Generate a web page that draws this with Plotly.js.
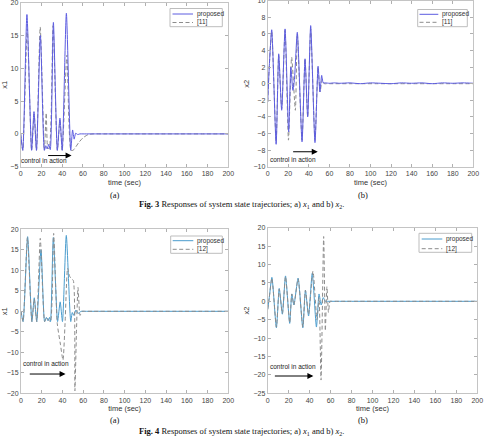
<!DOCTYPE html>
<html>
<head>
<meta charset="utf-8">
<script src="https://cdn.plot.ly/plotly-3.0.1.min.js"></script>
<style>
  html, body { margin: 0; padding: 0; background: #fff; }
  #fig { width: 487px; height: 441px; }
</style>
</head>
<body>
<div id="fig"></div>
<script>
// ---- Fig. 3 (a): x1, proposed vs [11]
const t3aProp = [0, 2, 6, 10.5, 12.8, 15.2, 19, 22.8, 24.2, 25.5, 27, 28.5, 31.5, 35.3, 37.8, 40, 44, 48.2, 50, 51.5, 53, 55, 57, 60, 80, 200];
const x3aProp = [0, -2.5, 18.2, -2.5, 3.4, -2.5, 15, -2.5, -1.8, -2.3, -1.6, -2.4, 17, -2.5, 2.4, -2.5, 18.4, -2.5, 0.6, -0.8, 0.1, -0.1, 0, 0, 0, 0];
const t3aRef = [0, 2, 6.3, 10.5, 13, 15.2, 18.8, 22.8, 24.6, 26.2, 27.5, 31.2, 35.3, 37.8, 40, 44.5, 48.5, 50.5, 53, 56, 60, 65, 70, 80, 200];
const x3aRef = [0, -2.5, 16, -2.5, 3, -2.5, 16.3, -2.5, 3.2, -2.2, -2.2, 16.5, -2.5, 2, -2.5, 12, -2.5, -2.5, -2, -1.3, -0.6, -0.1, 0, 0, 0];

// ---- Fig. 3 (b): x2, proposed vs [11]
const t3bProp = [0, 1.5, 3.9, 8.2, 10.7, 13.6, 16.9, 20.4, 22.5, 24.5, 26, 28.8, 33.4, 36.3, 38.9, 41.8, 46, 49, 50.8, 52.5, 54, 56, 60, 65, 70, 80, 90, 100, 110, 120, 130, 140, 150, 160, 170, 180, 190, 200];
const x3bProp = [-2.2, 2, 6.5, -7.3, 3.6, -3.2, 6.6, -5.8, 2, -0.8, 0.5, 6.2, -7, 3, -4, 7, -7.1, 2.1, -1, 1, 0.1, 0.1, 0.05, 0.1, 0.05, 0.1, 0, 0.1, 0.05, 0, 0.1, 0.05, 0.1, 0, 0.1, 0.05, 0.1, 0.05];
const t3bRef = [0, 1.5, 3.9, 8.2, 10.7, 13.6, 16.9, 20.2, 23.3, 26.9, 28.8, 33.4, 36.3, 38.9, 41.8, 46, 49, 51, 53, 55, 57, 60, 80, 200];
const x3bRef = [-2.2, 2, 6.3, -7, 3.4, -3, 6.4, -6.8, 3.2, -3.2, 6, -6.8, 3, -4, 6.6, -6.8, 2, -1, 0.5, 0, 0, 0, 0, 0];

// ---- Fig. 4 (a): x1, proposed vs [12]
const t4aProp = [0, 2, 6.4, 10.5, 12.8, 15.2, 19.3, 22.8, 24.5, 26, 27.5, 28.5, 31.2, 35.3, 37.8, 40, 43.7, 48, 49.5, 51, 53, 55, 58, 60, 80, 200];
const x4aProp = [0, -2.5, 18.2, -2.5, 3.3, -2.5, 15, -2.5, -1.5, -2.3, -1.5, -2.5, 18, -2.5, 2.3, -2.5, 18.5, -2.5, -0.3, -1, 0.3, -0.5, 0, 0, 0, 0];
const t4aRef = [0, 2, 6.2, 10.5, 12.8, 15.2, 18.6, 22.8, 24.5, 27, 28.5, 31.5, 35, 38, 40.5, 42.5, 45, 47, 48.5, 50.5, 52, 53.5, 55, 57, 59, 61, 70, 200];
const x4aRef = [0, -2.5, 18, -2.5, 3, -2.5, 17.8, -2.5, -1.5, -2.3, -2.5, 19, -3, -8, -11.9, -3, 10.5, 8.5, 8, 7.5, -19.4, -5, 5.8, -1, 0, 0, 0, 0];

// ---- Fig. 4 (b): x2, proposed vs [12]
const t4bProp = [0, 1.5, 4, 8.3, 11, 14, 17, 21, 23, 25, 29, 33.5, 36, 39, 42.5, 46.5, 49, 51, 53, 55, 57, 60, 80, 200];
const x4bProp = [-2.2, 1, 6.5, -7.2, 3.5, -3.5, 6.9, -6, 2, -1, 6.3, -7.2, 3, -4, 7.6, -7, 2, -1, 1, 0, 0, 0, 0, 0];
const t4bRef = [0, 1.5, 4, 8.3, 11, 14, 17, 21, 23, 25, 29, 33.5, 36, 39, 43.2, 47, 49, 50.9, 53.4, 55, 56.5, 58, 59.5, 61, 63, 70, 200];
const x4bRef = [-2.2, 1, 6.3, -7, 3.3, -3.3, 6.7, -5.8, 2, -1, 6.1, -7, 3, -3.5, 8.2, -5, 1, -21.4, 17.6, -8, 4, -3, 0, 0, 0, 0, 0];

const seriesNames = ["proposed", "[11]", "[12]"];
const xTitle = "time (sec)";
const yTitles = ["x1", "x2"];
const xTicks = [0, 20, 40, 60, 80, 100, 120, 140, 160, 180, 200];
const yTicks3a = [-5, 0, 5, 10, 15, 20];
const yTicks3b = [-10, -8, -6, -4, -2, 0, 2, 4, 6, 8, 10];
const yTicks4a = [-20, -15, -10, -5, 0, 5, 10, 15, 20];
const yTicks4b = [-25, -20, -15, -10, -5, 0, 5, 10, 15, 20];
const arrowText = "control in action";

const W = 487, H = 441;
const SANS = "Liberation Sans, Arial, sans-serif";
const SERIF = "Liberation Serif, Times New Roman, serif";
const BLUE3 = "#5c5ce0";
const BLUE4 = "#4a9ccd";
const GREY = "#8c8c8c";
const DASH = "4px,2.5px";

function px2x(p) { return p / W; }
function px2y(p) { return 1 - p / H; }

function xAxis(l, r, anchor) {
  return {
    domain: [px2x(l), px2x(r)], anchor: anchor, range: [0, 200],
    tickvals: xTicks, ticks: "inside", ticklen: 3, tickcolor: "#b0b0b0",
    showline: true, linecolor: "#c4c4c4", linewidth: 1, mirror: "ticks",
    showgrid: false, zeroline: false, ticklabeloverflow: "allow",
    tickfont: { family: SANS, size: 7, color: "#444" },
    title: { text: xTitle, font: { family: SANS, size: 7.5, color: "#333" }, standoff: 3 }
  };
}
function yAxis(t, b, anchor, range, ticks, title) {
  return {
    domain: [px2y(b), px2y(t)], anchor: anchor, range: range,
    tickvals: ticks, ticks: "inside", ticklen: 3, tickcolor: "#b0b0b0",
    showline: true, linecolor: "#c4c4c4", linewidth: 1, mirror: "ticks",
    showgrid: false, zeroline: false, ticklabeloverflow: "allow",
    tickfont: { family: SANS, size: 7, color: "#444" },
    title: { text: title, font: { family: SANS, size: 7.5, color: "#333" }, standoff: 2 }
  };
}

function line(t, v, name, color, dash, xa, ya) {
  return {
    x: t, y: v, name: name, type: "scatter", mode: "lines",
    xaxis: xa, yaxis: ya, showlegend: false,
    line: { color: color, width: 1, dash: dash, shape: "spline", smoothing: 0.6 }
  };
}

const data = [
  line(t3aRef, x3aRef, seriesNames[1], GREY, DASH, "x", "y"),
  line(t3aProp, x3aProp, seriesNames[0], BLUE3, "solid", "x", "y"),
  line(t3bRef, x3bRef, seriesNames[1], GREY, DASH, "x2", "y2"),
  line(t3bProp, x3bProp, seriesNames[0], BLUE3, "solid", "x2", "y2"),
  line(t4aProp, x4aProp, seriesNames[0], BLUE4, "solid", "x3", "y3"),
  line(t4aRef, x4aRef, seriesNames[2], GREY, DASH, "x3", "y3"),
  line(t4bProp, x4bProp, seriesNames[0], BLUE4, "solid", "x4", "y4"),
  line(t4bRef, x4bRef, seriesNames[2], GREY, DASH, "x4", "y4")
];

// Compact boxed key in the top-right corner of each panel
const shapes = [];
const annotations = [];
function key(l, r, t, b, row1, row2, sampleL, sampleR, propColor, otherName) {
  shapes.push({ type: "rect", xref: "paper", yref: "paper",
    x0: px2x(l), x1: px2x(r), y0: px2y(b), y1: px2y(t),
    line: { color: "#bdbdbd", width: 1 }, fillcolor: "#fff", layer: "above" });
  shapes.push({ type: "line", xref: "paper", yref: "paper",
    x0: px2x(sampleL), x1: px2x(sampleR), y0: px2y(row1), y1: px2y(row1),
    line: { color: propColor, width: 1 }, layer: "above" });
  shapes.push({ type: "line", xref: "paper", yref: "paper",
    x0: px2x(sampleL), x1: px2x(sampleR), y0: px2y(row2), y1: px2y(row2),
    line: { color: GREY, width: 1, dash: DASH }, layer: "above" });
  [[row1, seriesNames[0]], [row2, otherName]].forEach(([y, txt]) => {
    annotations.push({ xref: "paper", yref: "paper", x: px2x(sampleR + 1.5), y: px2y(y),
      xanchor: "left", yanchor: "middle", text: txt, showarrow: false,
      font: { family: SANS, size: 6.5, color: "#333" } });
  });
}
key(170, 222.3, 8.5, 26.7, 14, 22.5, 172.5, 193, BLUE3, seriesNames[1]);
key(417.7, 467.3, 9.5, 26.7, 14.3, 22.3, 419.5, 438.3, BLUE3, seriesNames[1]);
key(170.7, 222.3, 236, 253.3, 240.7, 249.3, 172.7, 193.3, BLUE4, seriesNames[2]);
key(419, 471.7, 233.3, 252.3, 239, 248.7, 421.7, 442.3, BLUE4, seriesNames[2]);

function arrow(xa, ya, x0, x1, y, tx, ty) {
  annotations.push(
    { xref: xa, yref: ya, axref: xa, ayref: ya, x: x1, y: y, ax: x0, ay: y,
      text: "", showarrow: true, arrowhead: 2, arrowsize: 1.2, arrowwidth: 1, arrowcolor: "#000" },
    { xref: xa, yref: ya, x: tx, y: ty, text: arrowText, showarrow: false,
      font: { family: SANS, size: 6.5, color: "#222" } }
  );
}
arrow("x", "y", 25, 49, -3.3, 22.5, -4.0);
arrow("x2", "y2", 23.3, 48.7, -8.2, 24.3, -9.1);
arrow("x3", "y3", 7, 43, -15.3, 24.4, -12.8);
arrow("x4", "y4", 5.4, 43.6, -20.3, 24.2, -17.7);

function caption(x, y, text) {
  annotations.push({ xref: "paper", yref: "paper", x: px2x(x), y: px2y(y), text: text,
    showarrow: false, xanchor: "center", yanchor: "middle",
    font: { family: SERIF, size: 8.5, color: "#111" } });
}
const figCaption = (n) => "<b>Fig. " + n + "</b> Responses of system state trajectories; a) <i>x</i><sub>1</sub> and b) <i>x</i><sub>2</sub>.";
caption(115, 195, "(a)");
caption(363, 195, "(b)");
caption(241, 204, figCaption(3));
caption(115, 420, "(a)");
caption(363, 420, "(b)");
caption(241, 431, figCaption(4));

const layout = {
  width: W, height: H, margin: { l: 0, r: 0, t: 0, b: 0 },
  paper_bgcolor: "#fff", plot_bgcolor: "#fff", showlegend: false,
  xaxis: xAxis(20.7, 228.3, "y"),
  yaxis: yAxis(2.7, 166.7, "x", [-5, 20], yTicks3a, yTitles[0]),
  xaxis2: xAxis(267.7, 473.3, "y2"),
  yaxis2: yAxis(0.7, 166.7, "x2", [-10, 10], yTicks3b, yTitles[1]),
  xaxis3: xAxis(21, 228.3, "y3"),
  yaxis3: yAxis(229.3, 393.3, "x3", [-20, 20], yTicks4a, yTitles[0]),
  xaxis4: xAxis(267.7, 477.3, "y4"),
  yaxis4: yAxis(227.7, 393.3, "x4", [-25, 20], yTicks4b, yTitles[1]),
  shapes: shapes,
  annotations: annotations
};

Plotly.newPlot("fig", data, layout, { staticPlot: true, displayModeBar: false });
</script>
</body>
</html>
